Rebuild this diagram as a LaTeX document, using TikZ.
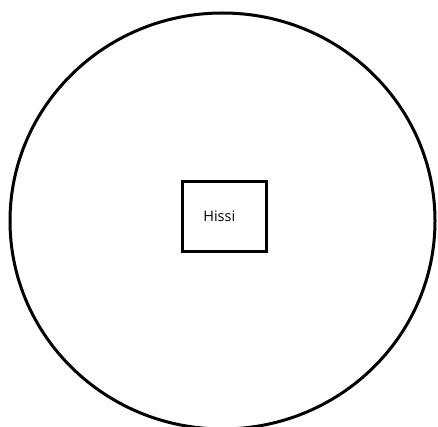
\documentclass[tikz,border=0pt]{standalone}
\usepackage{fontspec}
\setmainfont{Open Sans}
\begin{document}
\begin{tikzpicture}[x=1pt,y=-1pt,
  outline/.style={draw=black,line width=3pt},
  box/.style={outline,minimum width=83.5pt,minimum height=70pt,inner sep=0pt},
  lbl/.style={font=\fontsize{14.5}{16}\selectfont,text=black}]
\useasboundingbox (0,0) rectangle (438,427);
\clip (0,0) rectangle (438,427);
\fill[white] (0,0) rectangle (438,427);
\draw[outline] (222.5,221) ellipse [x radius=212.5, y radius=208];
\node[box] (hissi) at (224.25,216.6) {};
\node[lbl] (label) at (219.3,216.7) {Hissi};
\end{tikzpicture}
\end{document}
